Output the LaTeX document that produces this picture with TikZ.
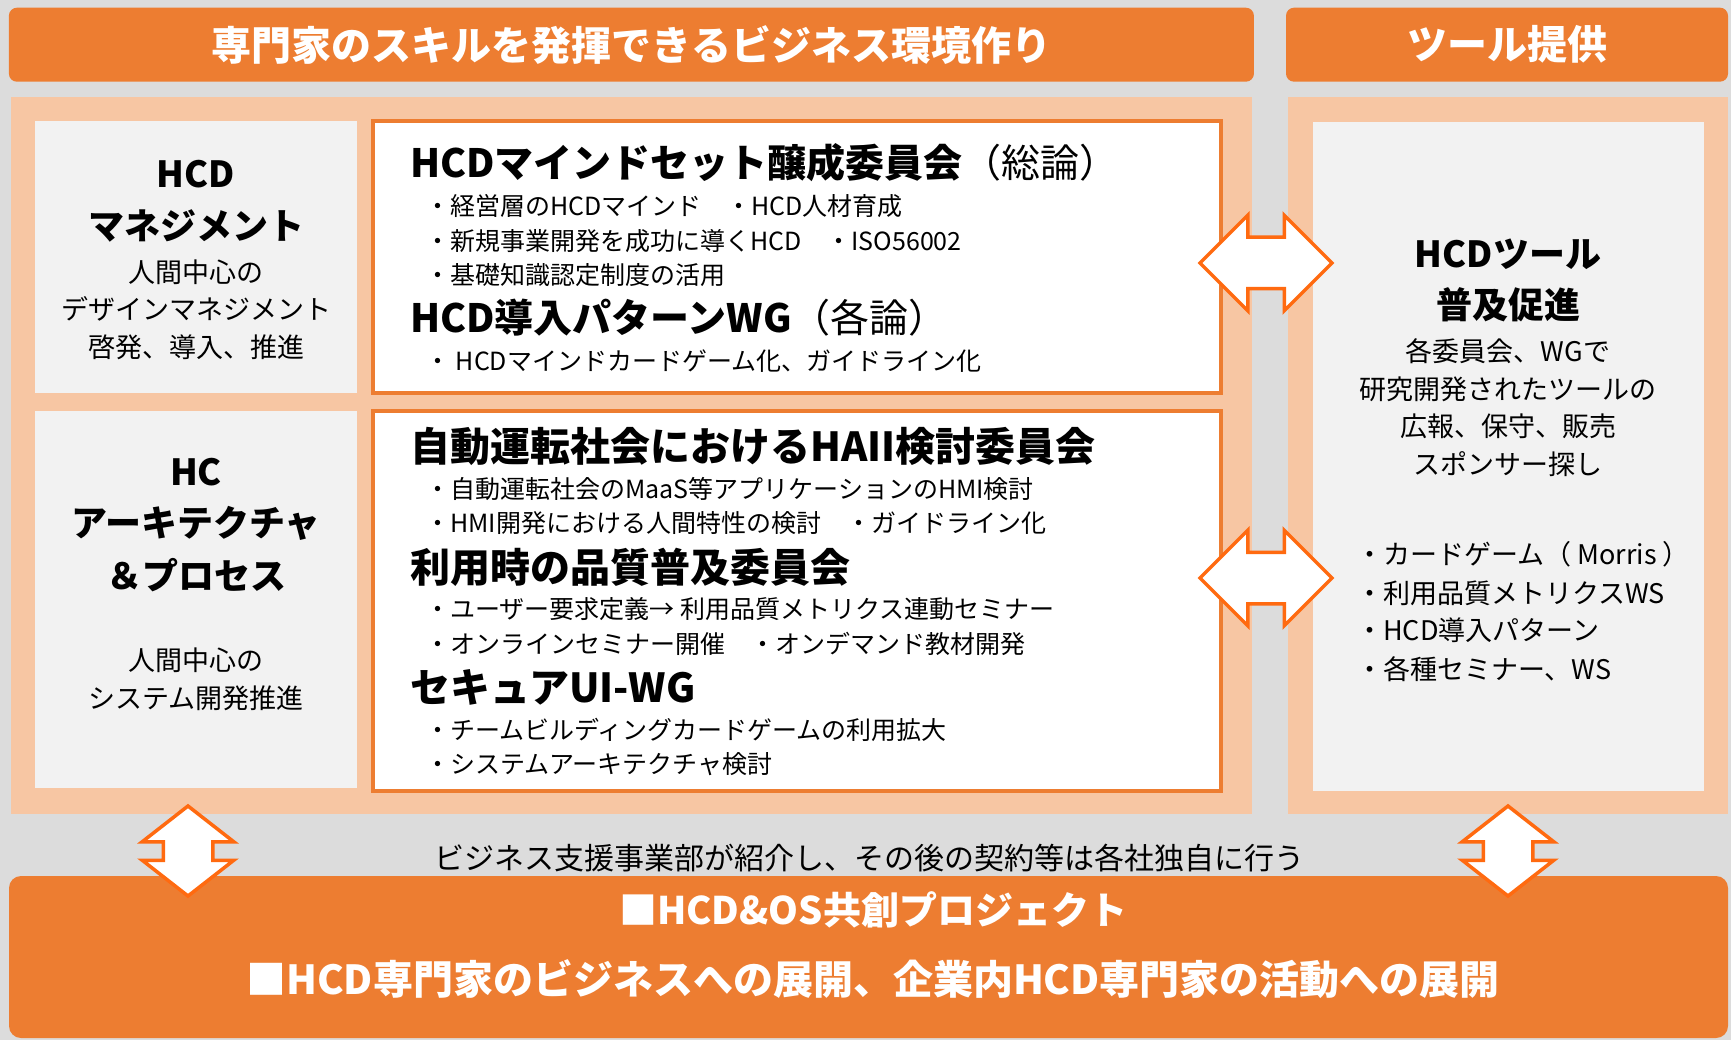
\documentclass[tikz,border=0pt]{standalone}
\usepackage{fontspec}
\setmainfont{Noto Sans CJK JP}
\usetikzlibrary{shapes.arrows}
\definecolor{bgray}{HTML}{DCDCDC}
\definecolor{peach}{HTML}{F7C6A3}
\definecolor{lgray}{HTML}{F2F2F2}
\definecolor{orng}{HTML}{ED7D31}
\definecolor{arrowor}{HTML}{FF6A10}
\newcommand\fsz[1]{\fontsize{#1}{#1}\selectfont}
\tikzset{
  banner/.style={fill=orng, rounded corners=8pt, inner sep=0pt, text=white, font=\fsz{40}\bfseries},
  panel/.style={fill=peach, inner sep=0pt},
  graybox/.style={fill=lgray, inner sep=0pt},
  whitebox/.style={fill=white, draw=orng, line width=3.5pt, inner sep=0pt},
  headc/.style={inner sep=0pt, font=\fsz{36}\bfseries},
  bodyc/.style={inner sep=0pt, font=\fsz{27}},
  title/.style={inner sep=0pt, anchor=west, font=\fsz{39}},
  bullet/.style={inner sep=0pt, anchor=west, font=\fsz{25}},
  rbullet/.style={inner sep=0pt, anchor=west, font=\fsz{27}},
  harrow/.style={double arrow, draw=arrowor, fill=white, line width=3.5pt, inner sep=24pt,
    minimum height=132pt, minimum width=92pt, double arrow head extend=22pt, double arrow tip angle=90},
  varrow/.style={double arrow, draw=arrowor, fill=white, line width=3.5pt, inner sep=23pt, rotate=90,
    minimum height=90pt, minimum width=90pt, double arrow head extend=21pt, double arrow tip angle=104},
}
\begin{document}
\begin{tikzpicture}[x=1pt,y=-1pt]
\fill[bgray] (0,0) rectangle (1731,1040);
\useasboundingbox (0,0) rectangle (1731,1040);

% banners
\node[banner, minimum width=1245pt, minimum height=74pt] (ban1) at (631.4,44.7) {専門家のスキルを発揮できるビジネス環境作り};
\node[banner, minimum width=442pt, minimum height=74pt] (ban2) at (1507,44.7) {ツール提供};

% panels
\node[panel, minimum width=1241pt, minimum height=717pt] (pl) at (631.5,455.5) {};
\node[panel, minimum width=440pt, minimum height=717pt] (pr) at (1508,455.5) {};

% left gray boxes
\node[graybox, minimum width=322pt, minimum height=272pt] (g1) at (196,257) {};
\node[graybox, minimum width=322pt, minimum height=377pt] (g2) at (196,599.5) {};
% white boxes
\node[whitebox, minimum width=848pt, minimum height=272pt] (w1) at (797,257) {};
\node[whitebox, minimum width=848pt, minimum height=380pt] (w2) at (797,601) {};
% right gray box
\node[graybox, minimum width=391pt, minimum height=669pt] (g3) at (1508.5,456.5) {};

% bottom box
\node[fill=orng, rounded corners=12pt, minimum width=1719pt, minimum height=162pt, inner sep=0pt] (bot) at (868.5,957) {};

% left box 1 texts
\node[headc] (l1a) at (196,174) {HCD};
\node[headc] (l1b) at (196,226) {マネジメント};
\node[bodyc] (l1c) at (196,272) {人間中心の};
\node[bodyc] (l1d) at (196,309) {デザインマネジメント};
\node[bodyc] (l1e) at (196,347) {啓発、導入、推進};

% left box 2 texts
\node[headc] (l2a) at (196,472) {HC};
\node[headc] (l2b) at (196,523) {アーキテクチャ};
\node[headc] (l2c) at (196,575) {＆プロセス};
\node[bodyc] (l2d) at (196,660) {人間中心の};
\node[bodyc] (l2e) at (196,698) {システム開発推進};

% white box 1
\node[title] (t1) at (410,163) {{\bfseries HCDマインドセット醸成委員会}（総論）};
\node[bullet] (b11) at (425,206) {・経営層のHCDマインド　・HCD人材育成};
\node[bullet] (b12) at (425,241) {・新規事業開発を成功に導くHCD　・ISO56002};
\node[bullet] (b13) at (425,275) {・基礎知識認定制度の活用};
\node[title] (t2) at (410,318) {{\bfseries HCD導入パターンWG}（各論）};
\node[bullet] (b21) at (425,361) {・ HCDマインドカードゲーム化、ガイドライン化};

% white box 2
\node[title, font=\fsz{40}\bfseries] (t3) at (410,446) {自動運転社会におけるHAII検討委員会};
\node[bullet] (b31) at (425,489) {・自動運転社会のMaaS等アプリケーションのHMI検討};
\node[bullet] (b32) at (425,523) {・HMI開発における人間特性の検討　・ガイドライン化};
\node[title, font=\fsz{40}\bfseries] (t4) at (410,567) {利用時の品質普及委員会};
\node[bullet] (b41) at (425,609) {・ユーザー要求定義→ 利用品質メトリクス連動セミナー};
\node[bullet] (b42) at (425,644) {・オンラインセミナー開催　・オンデマンド教材開発};
\node[title, font=\fsz{40}\bfseries] (t5) at (410,687) {セキュアUI-WG};
\node[bullet] (b51) at (425,730) {・チームビルディングカードゲームの利用拡大};
\node[bullet] (b52) at (425,764) {・システムアーキテクチャ検討};

% right box
\node[headc] (r1) at (1508,254) {HCDツール};
\node[headc] (r2) at (1508,305) {普及促進};
\node[bodyc] (r3) at (1508,351) {各委員会、WGで};
\node[bodyc] (r4) at (1508,389) {研究開発されたツールの};
\node[bodyc] (r5) at (1508,426) {広報、保守、販売};
\node[bodyc] (r6) at (1508,464) {スポンサー探し};
\node[rbullet] (rb1) at (1356,554) {・カードゲーム（ Morris ）};
\node[rbullet] (rb2) at (1356,593) {・利用品質メトリクスWS};
\node[rbullet] (rb3) at (1356,630) {・HCD導入パターン};
\node[rbullet] (rb4) at (1356,669) {・各種セミナー、WS};

% caption
\node[inner sep=0pt, font=\fsz{30}] (cap) at (869,858) {ビジネス支援事業部が紹介し、その後の契約等は各社独自に行う};

% bottom texts
\node[inner sep=0pt, text=white, font=\fsz{38}\bfseries] (bt1) at (873,910) {■HCD\&OS共創プロジェクト};
\node[inner sep=0pt, text=white, font=\fsz{40}\bfseries] (bt2) at (873,979) {■HCD専門家のビジネスへの展開、企業内HCD専門家の活動への展開};

% double arrows
\node[harrow] (ha1) at (1266,263) {};
\node[harrow] (ha2) at (1266,578) {};
\node[varrow] (va1) at (188,851) {};
\node[varrow] (va2) at (1508,851) {};
\end{tikzpicture}
\end{document}
